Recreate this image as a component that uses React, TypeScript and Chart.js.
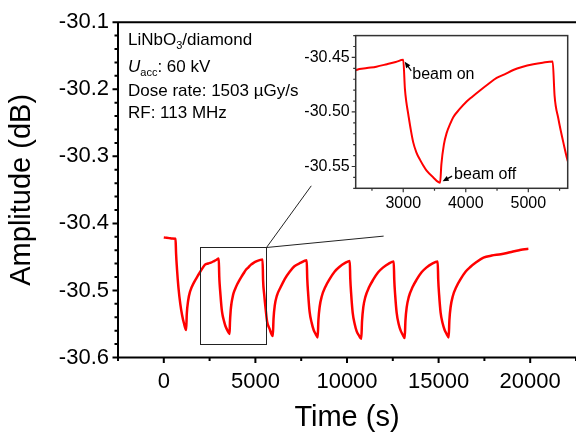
import React, { useEffect, useRef } from "react";
import { Chart, registerables } from "chart.js";

Chart.register(...registerables);

const FONT = '"Liberation Sans", Arial, Helvetica, sans-serif';

// ---- data ----
const timeS = [
  0, 150, 300, 450, 640, 670, 720, 800, 900, 1000, 1100, 1220,
  1255, 1330, 1430, 1650, 1860, 2130, 2250, 2420, 2570, 2740, 2880, 3000,
  3027, 3050, 3080, 3120, 3160, 3210, 3267, 3320, 3374, 3480, 3590,
  3610, 3650, 3695, 3750, 3800, 3900, 4014, 4100, 4227, 4350, 4494, 4620, 4760, 4900, 5080, 5230, 5390,
  5420, 5480, 5560, 5640, 5770, 5950,
  5990, 6060, 6170, 6380, 6600, 6870, 7130, 7450, 7800,
  7830, 7880, 7960, 8070, 8180, 8290, 8400,
  8440, 8510, 8620, 8830, 9050, 9320, 9580, 9900, 10150,
  10180, 10230, 10310, 10420, 10530, 10650, 10780,
  10820, 10890, 11000, 11210, 11430, 11700, 11960, 12280, 12550,
  12580, 12630, 12710, 12820, 12930, 13040, 13150,
  13190, 13260, 13370, 13580, 13800, 14070, 14330, 14650, 14950,
  14980, 15030, 15110, 15220, 15330, 15440, 15550,
  15590, 15660, 15770, 15980, 16200, 16470, 16730, 17050, 17450, 17900,
  18400, 18900, 19400, 19700, 19900,
];
const amplitudeDb = [
  -30.421, -30.4215, -30.422, -30.4225, -30.423, -30.445, -30.468, -30.496, -30.52, -30.537, -30.549, -30.559,
  -30.535, -30.515, -30.502, -30.488, -30.478, -30.466, -30.4615, -30.4598, -30.4585, -30.4562, -30.4542, -30.4522,
  -30.4788, -30.491, -30.5019, -30.516, -30.5279, -30.537, -30.5437, -30.549, -30.5538, -30.56, -30.5648,
  -30.548, -30.53, -30.5192, -30.511, -30.5048, -30.4975, -30.4904, -30.4862, -30.4803, -30.4748, -30.4688, -30.4655, -30.4615, -30.4588, -30.4563, -30.4548, -30.4537,
  -30.485, -30.506, -30.5279, -30.5466, -30.557, -30.568,
  -30.542, -30.522, -30.508, -30.495, -30.483, -30.472, -30.464, -30.459, -30.455,
  -30.482, -30.505, -30.532, -30.548, -30.559, -30.565, -30.57,
  -30.544, -30.524, -30.509, -30.494, -30.483, -30.472, -30.465, -30.459, -30.456,
  -30.483, -30.506, -30.533, -30.55, -30.561, -30.567, -30.572,
  -30.546, -30.525, -30.51, -30.495, -30.484, -30.473, -30.466, -30.46, -30.457,
  -30.484, -30.507, -30.533, -30.55, -30.56, -30.566, -30.571,
  -30.545, -30.525, -30.51, -30.495, -30.484, -30.473, -30.466, -30.46, -30.457,
  -30.484, -30.507, -30.533, -30.549, -30.559, -30.565, -30.57,
  -30.544, -30.524, -30.509, -30.494, -30.483, -30.472, -30.465, -30.458, -30.451, -30.448,
  -30.446, -30.443, -30.44, -30.4385, -30.438,
];

// main axes
const xRange = [-2500, 22500];
const yRange = [-30.6, -30.1];
const xTickLabels = [0, 5000, 10000, 15000, 20000];
const xMinorTicks = [-2500, 2500, 7500, 12500, 17500, 22500];
const yTickLabels = [-30.6, -30.5, -30.4, -30.3, -30.2, -30.1];
const yMinorStep = 0.02;

// inset axes
const insetXRange = [2240, 5630];
const insetYRange = [-30.57, -30.43];
const insetXTicks = [3000, 4000, 5000];
const insetXMinor = [2500, 3500, 4500, 5500];
const insetYTicks = [-30.55, -30.5, -30.45];
const insetYMinorStep = 0.01;

// zoom box and its connectors (data units)
const zoomBoxTime = [2000, 5600];
const zoomBoxAmp = [-30.579, -30.435];
const connectorEnds = [
  [8050, -30.344],
  [12000, -30.419],
];

// annotations
const beamOnPoint = [3000, -30.4522];
const beamOffPoint = [3590, -30.5648];

const points = timeS.map((t, i) => ({ x: t, y: amplitudeDb[i] }));

type Part = { t: string; sub?: boolean; italic?: boolean };
const infoLines: Part[][] = [
  [{ t: "LiNbO" }, { t: "3", sub: true }, { t: "/diamond" }],
  [{ t: "U", italic: true }, { t: "acc", sub: true }, { t: ": 60 kV" }],
  [{ t: "Dose rate: 1503 \u00b5Gy/s" }],
  [{ t: "RF: 113 MHz" }],
];
const infoBaselines = [23, 49.5, 74, 95.5];

function drawRich(ctx: CanvasRenderingContext2D, parts: Part[], x: number, y: number) {
  let cx = x;
  for (const p of parts) {
    const size = p.sub ? 11 : 17;
    ctx.font = `${p.italic ? "italic " : ""}${size}px ${FONT}`;
    ctx.fillText(p.t, cx, p.sub ? y + 4 : y);
    cx += ctx.measureText(p.t).width;
  }
}

function drawArrow(ctx: CanvasRenderingContext2D, fx: number, fy: number, tx: number, ty: number) {
  const ang = Math.atan2(ty - fy, tx - fx);
  const hl = 6;
  const hw = 2.6;
  ctx.beginPath();
  ctx.moveTo(fx, fy);
  ctx.lineTo(tx - Math.cos(ang) * hl * 0.8, ty - Math.sin(ang) * hl * 0.8);
  ctx.stroke();
  ctx.beginPath();
  ctx.moveTo(tx, ty);
  ctx.lineTo(tx - Math.cos(ang) * hl - Math.sin(ang) * hw, ty - Math.sin(ang) * hl + Math.cos(ang) * hw);
  ctx.lineTo(tx - Math.cos(ang) * hl + Math.sin(ang) * hw, ty - Math.sin(ang) * hl - Math.cos(ang) * hw);
  ctx.closePath();
  ctx.fill();
}

const mainDecor = {
  id: "mainDecor",
  afterDraw(chart: any) {
    const { ctx, chartArea: a } = chart;
    const x = chart.scales.x;
    const y = chart.scales.y;
    ctx.save();
    // zoom box
    ctx.strokeStyle = "#222";
    ctx.lineWidth = 1;
    const bx0 = x.getPixelForValue(zoomBoxTime[0]);
    const bx1 = x.getPixelForValue(zoomBoxTime[1]);
    const by0 = y.getPixelForValue(zoomBoxAmp[0]);
    const by1 = y.getPixelForValue(zoomBoxAmp[1]);
    ctx.strokeRect(Math.round(bx0) + 0.5, Math.round(by1) + 0.5, Math.round(bx1 - bx0), Math.round(by0 - by1));
    ctx.beginPath();
    for (const [cxv, cyv] of connectorEnds) {
      ctx.moveTo(Math.round(bx1) + 0.5, Math.round(by1) + 0.5);
      ctx.lineTo(x.getPixelForValue(cxv), y.getPixelForValue(cyv));
    }
    ctx.stroke();

    // axes frame
    ctx.strokeStyle = "#000";
    ctx.lineWidth = 2;
    ctx.beginPath();
    ctx.moveTo(a.left, a.top);
    ctx.lineTo(a.right, a.top);
    ctx.moveTo(a.left, a.top - 1);
    ctx.lineTo(a.left, a.bottom + 1);
    ctx.moveTo(a.left - 1, a.bottom);
    ctx.lineTo(a.right, a.bottom);
    for (let v = yRange[0]; v <= yRange[1] + 1e-9; v += yMinorStep) {
      const py = y.getPixelForValue(v);
      const major = yTickLabels.some((t) => Math.abs(t - v) < 1e-6);
      ctx.moveTo(a.left, py);
      ctx.lineTo(a.left - (major ? 5.5 : 3.5), py);
    }
    for (const v of xTickLabels) {
      const px = x.getPixelForValue(v);
      ctx.moveTo(px, a.bottom);
      ctx.lineTo(px, a.bottom + 5.5);
    }
    for (const v of xMinorTicks) {
      const px = x.getPixelForValue(v);
      ctx.moveTo(px, a.bottom);
      ctx.lineTo(px, a.bottom + 3.5);
    }
    ctx.stroke();

    // info text
    ctx.fillStyle = "#000";
    ctx.textBaseline = "alphabetic";
    ctx.textAlign = "left";
    infoLines.forEach((line, i) => drawRich(ctx, line, a.left + 10, a.top + infoBaselines[i]));
    ctx.restore();
  },
};

const insetDecor = {
  id: "insetDecor",
  beforeDatasetsDraw(chart: any) {
    const { ctx, chartArea: a } = chart;
    ctx.save();
    ctx.fillStyle = "#fff";
    ctx.fillRect(a.left, a.top, a.right - a.left, a.bottom - a.top);
    ctx.restore();
  },
  afterDraw(chart: any) {
    const { ctx, chartArea: a } = chart;
    const x = chart.scales.x;
    const y = chart.scales.y;
    ctx.save();
    ctx.strokeStyle = "#333";
    ctx.lineWidth = 1.5;
    ctx.strokeRect(a.left, a.top, a.right - a.left, a.bottom - a.top);
    ctx.lineWidth = 1.2;
    ctx.beginPath();
    for (let v = insetYRange[0]; v <= insetYRange[1] + 1e-9; v += insetYMinorStep) {
      const py = y.getPixelForValue(v);
      const major = insetYTicks.some((t) => Math.abs(t - v) < 1e-6);
      ctx.moveTo(a.left, py);
      ctx.lineTo(a.left - (major ? 4 : 2.5), py);
    }
    for (const v of insetXTicks) {
      const px = x.getPixelForValue(v);
      ctx.moveTo(px, a.bottom);
      ctx.lineTo(px, a.bottom + 4);
    }
    for (const v of insetXMinor) {
      const px = x.getPixelForValue(v);
      ctx.moveTo(px, a.bottom);
      ctx.lineTo(px, a.bottom + 2.5);
    }
    ctx.stroke();

    // annotations
    ctx.fillStyle = "#000";
    ctx.strokeStyle = "#000";
    ctx.lineWidth = 1.2;
    const onX = x.getPixelForValue(beamOnPoint[0]);
    const onY = y.getPixelForValue(beamOnPoint[1]);
    const offX = x.getPixelForValue(beamOffPoint[0]);
    const offY = y.getPixelForValue(beamOffPoint[1]);
    drawArrow(ctx, onX + 8, onY + 11, onX + 1.5, onY + 2);
    drawArrow(ctx, offX + 12, offY - 6.5, offX + 2.5, offY - 1.5);
    ctx.font = `16px ${FONT}`;
    ctx.textBaseline = "alphabetic";
    ctx.fillText("beam on", onX + 9, onY + 19.5);
    ctx.fillText("beam off", offX + 14, offY - 4);
    ctx.restore();
  },
};

export default function App() {
  const mainRef = useRef<HTMLCanvasElement>(null);
  const insetRef = useRef<HTMLCanvasElement>(null);

  useEffect(() => {
    const main = new Chart(mainRef.current!, {
      type: "line",
      data: {
        datasets: [
          {
            data: points,
            borderColor: "#ff0000",
            borderWidth: 2.5,
            pointRadius: 0,
            cubicInterpolationMode: "monotone",
            fill: false,
          },
        ],
      },
      options: {
        animation: false,
        responsive: false,
        devicePixelRatio: 1,
        parsing: false,
        layout: { padding: { top: 15.5, right: 0, left: 0, bottom: 0 } },
        plugins: { legend: { display: false }, tooltip: { enabled: false } },
        scales: {
          x: {
            type: "linear",
            min: xRange[0],
            max: xRange[1],
            afterBuildTicks: (s: any) => {
              s.ticks = xTickLabels.map((v) => ({ value: v }));
            },
            afterFit: (s: any) => {
              s.height = 81.5;
            },
            grid: { display: false, drawTicks: false, tickLength: 0 },
            border: { display: false },
            ticks: {
              color: "#000",
              font: { family: FONT, size: 22 },
              padding: 11,
              maxRotation: 0,
              autoSkip: false,
              callback: (v: any) => String(v),
            },
            title: {
              display: true,
              text: "Time (s)",
              color: "#000",
              font: { family: FONT, size: 29 },
              padding: { top: 0, bottom: 4 },
            },
          },
          y: {
            type: "linear",
            min: yRange[0],
            max: yRange[1],
            afterBuildTicks: (s: any) => {
              s.ticks = yTickLabels.map((v) => ({ value: v }));
            },
            afterFit: (s: any) => {
              s.width = 118;
            },
            grid: { display: false, drawTicks: false, tickLength: 0 },
            border: { display: false },
            ticks: {
              color: "#000",
              font: { family: FONT, size: 22 },
              padding: 9,
              autoSkip: false,
              callback: (v: any) => Number(v).toFixed(1),
            },
            title: {
              display: true,
              text: "Amplitude (dB)",
              color: "#000",
              font: { family: FONT, size: 29 },
              padding: { top: 5, bottom: 0 },
            },
          },
        },
      },
      plugins: [mainDecor],
    } as any);

    const inset = new Chart(insetRef.current!, {
      type: "line",
      data: {
        datasets: [
          {
            data: points,
            borderColor: "#ff0000",
            borderWidth: 2,
            pointRadius: 0,
            cubicInterpolationMode: "monotone",
            fill: false,
            clip: 0,
          },
        ],
      },
      options: {
        animation: false,
        responsive: false,
        devicePixelRatio: 1,
        parsing: false,
        layout: { padding: { top: 6.7, right: 8.3, left: 0, bottom: 0 } },
        plugins: { legend: { display: false }, tooltip: { enabled: false } },
        scales: {
          x: {
            type: "linear",
            min: insetXRange[0],
            max: insetXRange[1],
            afterBuildTicks: (s: any) => {
              s.ticks = insetXTicks.map((v) => ({ value: v }));
            },
            afterFit: (s: any) => {
              s.height = 31.7;
            },
            grid: { display: false, drawTicks: false, tickLength: 0 },
            border: { display: false },
            ticks: {
              color: "#000",
              font: { family: FONT, size: 16 },
              padding: 6,
              maxRotation: 0,
              autoSkip: false,
              callback: (v: any) => String(v),
            },
          },
          y: {
            type: "linear",
            min: insetYRange[0],
            max: insetYRange[1],
            afterBuildTicks: (s: any) => {
              s.ticks = insetYTicks.map((v) => ({ value: v }));
            },
            afterFit: (s: any) => {
              s.width = 65.7;
            },
            grid: { display: false, drawTicks: false, tickLength: 0 },
            border: { display: false },
            ticks: {
              color: "#000",
              font: { family: FONT, size: 16 },
              padding: 6,
              autoSkip: false,
              callback: (v: any) => Number(v).toFixed(2),
            },
          },
        },
      },
      plugins: [insetDecor],
    } as any);

    return () => {
      main.destroy();
      inset.destroy();
    };
  }, []);

  return (
    <div style={{ position: "fixed", left: 0, top: 0, width: 576, height: 439, background: "#fff" }}>
      <canvas ref={mainRef} width={576} height={439} style={{ position: "absolute", left: 0, top: 0, width: 576, height: 439 }} />
      <canvas ref={insetRef} width={286} height={200} style={{ position: "absolute", left: 290, top: 20, width: 286, height: 200 }} />
    </div>
  );
}
